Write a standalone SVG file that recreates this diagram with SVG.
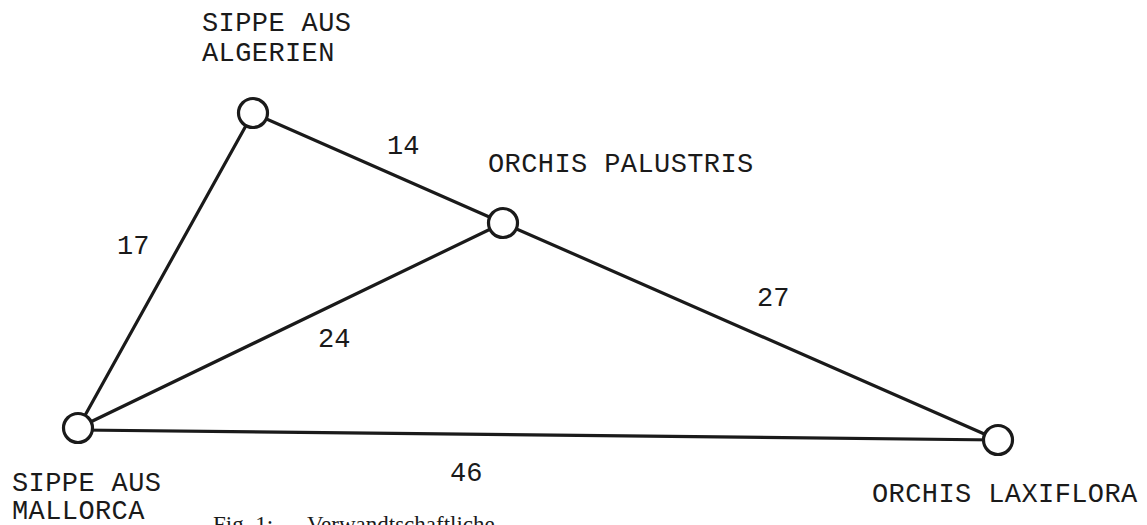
<svg xmlns="http://www.w3.org/2000/svg" width="1147" height="525" viewBox="0 0 1147 525">
<style>
.bg{fill:#ffffff}
.edge{stroke:#1a1a1a;stroke-width:3.2;fill:none;stroke-linecap:round}
.node{fill:#ffffff;stroke:#1a1a1a;stroke-width:3.2}
.lbl{font-family:"Liberation Mono","Courier New",monospace;font-size:27px;fill:#1a1a1a;letter-spacing:0.4px}
.num{font-family:"Liberation Mono","Courier New",monospace;font-size:27px;fill:#1a1a1a}
.cap{font-family:"Liberation Serif","Times New Roman",serif;font-size:23px;fill:#1a1a1a}
</style>
<rect class="bg" x="0" y="0" width="1147" height="525"/>
<g id="connectors">
  <line class="edge" x1="253" y1="113" x2="503" y2="223"/>
  <line class="edge" x1="253" y1="113" x2="78" y2="428"/>
  <line class="edge" x1="503" y1="223" x2="78" y2="428"/>
  <line class="edge" x1="503" y1="223" x2="998" y2="440"/>
  <line class="edge" x1="80" y1="430" x2="998" y2="440"/>
  <text class="num" x="387" y="154">14</text>
  <text class="num" x="117" y="254">17</text>
  <text class="num" x="318" y="347">24</text>
  <text class="num" x="757" y="306">27</text>
  <text class="num" x="450" y="481">46</text>
</g>
<g id="node-algerien">
  <circle class="node" cx="253" cy="113" r="14.5"/>
  <text class="lbl" x="202" y="31">SIPPE AUS</text>
  <text class="lbl" x="202" y="61">ALGERIEN</text>
</g>
<g id="node-palustris">
  <circle class="node" cx="503" cy="223" r="14.5"/>
  <text class="lbl" x="488" y="172">ORCHIS PALUSTRIS</text>
</g>
<g id="node-mallorca">
  <circle class="node" cx="78" cy="428" r="14.5"/>
  <text class="lbl" x="12" y="491">SIPPE AUS</text>
  <text class="lbl" x="12" y="519">MALLORCA</text>
</g>
<g id="node-laxiflora">
  <circle class="node" cx="998" cy="440" r="14.5"/>
  <text class="lbl" x="872" y="502">ORCHIS LAXIFLORA</text>
</g>
<text class="cap" x="213" y="532">Fig. 1:<tspan x="307">Verwandtschaftliche</tspan></text>
</svg>
